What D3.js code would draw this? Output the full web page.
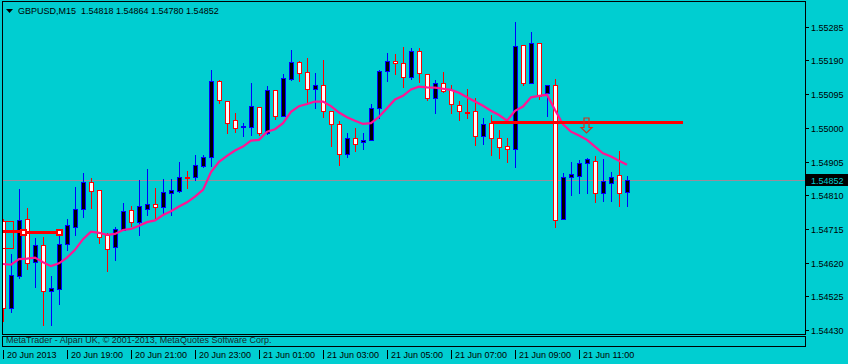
<!DOCTYPE html>
<html>
<head>
<meta charset="utf-8">
<script src="https://cdn.jsdelivr.net/npm/d3@7"></script>
<style>
  body { margin: 0; background: #00ced1; }
  svg { display: block; font-family: "Liberation Sans", Arial, sans-serif; }
</style>
</head>
<body>
<div class="draw"></div>
<script>
// GBPUSD M15, 20 Jun 17:00 .. 21 Jun 12:30
const symbol = "GBPUSD,M15"
const opens = [1.54737,1.54492,1.54582,1.54743,1.54622,1.54670,1.54540,1.54546,1.54672,1.54720,
  1.54771,1.54847,1.54825,1.54698,1.54664,1.54712,1.54768,1.54734,1.54771,1.54785,
  1.54777,1.54816,1.54822,1.54861,1.54861,1.54892,1.54918,1.55132,1.55076,1.55022,
  1.55002,1.55002,1.55059,1.54985,1.55107,1.55033,1.55138,1.55186,1.55157,1.55109,
  1.55121,1.55047,1.55011,1.54926,1.54971,1.54960,1.54966,1.55056,1.55160,1.55188,
  1.55183,1.55143,1.55217,1.55152,1.55084,1.55126,1.55107,1.55064,1.55045,1.55047,
  1.54977,1.55014,1.54971,1.54949,1.54940,1.55233,1.55126,1.55239,1.55098,1.55121,
  1.54743,1.54861,1.54864,1.54901,1.54906,1.54816,1.54844,1.54867,1.54818]
const highs = [1.54743,1.54644,1.54828,1.54774,1.54689,1.54692,1.54582,1.54703,1.54743,1.54833,
  1.54873,1.54859,1.54825,1.54703,1.54720,1.54788,1.54780,1.54853,1.54884,1.54830,
  1.54856,1.54856,1.54904,1.54878,1.54923,1.54923,1.55163,1.55135,1.55076,1.55042,
  1.55014,1.55126,1.55059,1.55118,1.55107,1.55152,1.55219,1.55188,1.55197,1.55155,
  1.55191,1.55047,1.55019,1.54985,1.54999,1.54985,1.55067,1.55163,1.55211,1.55208,
  1.55228,1.55225,1.55225,1.55152,1.55135,1.55157,1.55121,1.55076,1.55109,1.55084,
  1.55028,1.55036,1.54994,1.54971,1.55298,1.55233,1.55270,1.55239,1.55121,1.55138,
  1.54873,1.54904,1.54909,1.54915,1.54921,1.54912,1.54875,1.54935,1.54864]
const lows = [1.54455,1.54481,1.54577,1.54602,1.54551,1.54444,1.54444,1.54503,1.54656,1.54698,
  1.54749,1.54774,1.54675,1.54596,1.54627,1.54712,1.54723,1.54698,1.54754,1.54740,
  1.54757,1.54754,1.54819,1.54830,1.54853,1.54890,1.54892,1.55070,1.54985,1.54988,
  1.54977,1.54980,1.54980,1.54983,1.55025,1.55033,1.55135,1.55132,1.55067,1.55056,
  1.55031,1.54949,1.54895,1.54918,1.54935,1.54940,1.54966,1.55028,1.55132,1.55152,
  1.55115,1.55138,1.55129,1.55078,1.55042,1.55101,1.55042,1.55022,1.55028,1.54952,
  1.54954,1.54923,1.54915,1.54904,1.54890,1.55121,1.55126,1.55081,1.55033,1.54720,
  1.54743,1.54811,1.54816,1.54816,1.54791,1.54794,1.54794,1.54780,1.54780]
const closes = [1.54492,1.54585,1.54740,1.54619,1.54670,1.54540,1.54548,1.54672,1.54726,1.54771,
  1.54847,1.54822,1.54692,1.54658,1.54715,1.54765,1.54734,1.54780,1.54785,1.54777,
  1.54819,1.54825,1.54861,1.54861,1.54895,1.54918,1.55132,1.55078,1.55014,1.54999,
  1.55005,1.55061,1.54985,1.55107,1.55033,1.55140,1.55186,1.55155,1.55109,1.55121,
  1.55047,1.55011,1.54926,1.54971,1.54954,1.54966,1.55056,1.55160,1.55188,1.55183,
  1.55143,1.55217,1.55155,1.55084,1.55126,1.55104,1.55067,1.55047,1.55045,1.54977,
  1.55011,1.54971,1.54946,1.54940,1.55231,1.55126,1.55239,1.55090,1.55121,1.54740,
  1.54861,1.54870,1.54901,1.54912,1.54816,1.54850,1.54861,1.54816,1.54852]
// moving average
const maValues = [1.54616,1.54614,1.54630,1.54631,1.54634,1.54621,1.54610,1.54618,1.54634,1.54656,
  1.54686,1.54707,1.54704,1.54698,1.54701,1.54712,1.54715,1.54724,1.54734,1.54739,
  1.54754,1.54765,1.54778,1.54790,1.54806,1.54825,1.54875,1.54904,1.54921,1.54936,
  1.54947,1.54964,1.54966,1.54989,1.54996,1.55013,1.55045,1.55061,1.55067,1.55074,
  1.55074,1.55061,1.55043,1.55030,1.55020,1.55011,1.55013,1.55031,1.55055,1.55080,
  1.55090,1.55108,1.55116,1.55114,1.55113,1.55110,1.55107,1.55099,1.55086,1.55074,
  1.55062,1.55048,1.55036,1.55020,1.55048,1.55060,1.55086,1.55090,1.55093,1.55050,
  1.55010,1.54989,1.54978,1.54966,1.54947,1.54928,1.54919,1.54907,1.54896]

const timeTicks = [0, 8, 16, 24, 32, 40, 48, 56, 64, 72]
const timeLabels = ["20 Jun 2013", "20 Jun 19:00", "20 Jun 21:00", "20 Jun 23:00", "21 Jun 01:00",
  "21 Jun 03:00", "21 Jun 05:00", "21 Jun 07:00", "21 Jun 09:00", "21 Jun 11:00"]
const priceTicks = [1.55285, 1.55190, 1.55095, 1.55000, 1.54905, 1.54810, 1.54715, 1.54620, 1.54525, 1.54430]

// chart objects (bar index, price)
const hLine = [61, 85, 1.55015]
const sellArrow = [73, 1.54986]
const trendA = [[-1, 1.54708], [2.5, 1.54708]]
const trendB = [[2.5, 1.54705], [7, 1.54705]]
const boxObj = [[-1, 1.54737], [1.25, 1.54661]]

const width = 848
const height = 364
const bg = "#00ced1"

let svg = d3.select("div.draw")
  .append("svg")
  .attr("width", width)
  .attr("height", height)

svg.append("rect").attr("width", width).attr("height", height).attr("fill", bg)

let x = d3.scaleLinear().domain([0, opens.length - 1]).range([3, 627])
let y = d3.scaleLinear().domain([1.54430, 1.55285]).range([330, 26.7])
const px = i => Math.round(x(i))
const py = p => Math.round(y(p))

svg.append("clipPath").attr("id", "plot")
  .append("rect").attr("x", 3).attr("y", 2).attr("width", 802).attr("height", 332)

let plot = svg.append("g").attr("clip-path", "url(#plot)")

// bid line
let last = closes[closes.length - 1]
plot.append("line")
  .attr("x1", 0).attr("x2", 806)
  .attr("y1", py(last) + 0.5).attr("y2", py(last) + 0.5)
  .attr("stroke", "#9a8c9c")
  .style("shape-rendering", "crispEdges")

let bars = d3.range(opens.length).map(i => ({
  i: i, o: opens[i], h: highs[i], l: lows[i], c: closes[i], up: closes[i] > opens[i]
}))

let candles = plot.selectAll("g.candle")
  .data(bars)
  .enter()
  .append("g")
  .attr("class", "candle")
  .style("shape-rendering", "crispEdges")

candles.append("line")
  .attr("x1", d => px(d.i) + 0.5).attr("x2", d => px(d.i) + 0.5)
  .attr("y1", d => py(d.h)).attr("y2", d => py(d.l) + 1)
  .attr("stroke", d => d.up ? "#0000ff" : "#ff0000")

candles.append("rect")
  .attr("x", d => px(d.i) - 1.5)
  .attr("width", 4)
  .attr("y", d => py(Math.max(d.o, d.c)) + 0.5)
  .attr("height", d => Math.max(py(Math.min(d.o, d.c)) - py(Math.max(d.o, d.c)), 1))
  .attr("fill", d => d.up ? "#000000" : "#ffffff")
  .attr("stroke", d => d.up ? "#0000ff" : "#ff0000")

// moving average
plot.append("path")
  .datum(maValues)
  .attr("d", d3.line().x((v, i) => x(i)).y(v => y(v)))
  .attr("fill", "none")
  .attr("stroke", "#ff1493")
  .attr("stroke-width", 2.2)

// objects
plot.append("rect")
  .attr("x", px(boxObj[0][0]) + 0.5)
  .attr("y", py(boxObj[0][1]) + 0.5)
  .attr("width", px(boxObj[1][0]) - px(boxObj[0][0]))
  .attr("height", py(boxObj[1][1]) - py(boxObj[0][1]))
  .attr("fill", "none").attr("stroke", "#ff0000")
  .style("shape-rendering", "crispEdges")

;[trendA, trendB].forEach(t => {
  plot.append("line")
    .attr("x1", x(t[0][0])).attr("x2", x(t[1][0]))
    .attr("y1", py(t[0][1]) + 0.5).attr("y2", py(t[1][1]) + 0.5)
    .attr("stroke", "#ff0000").attr("stroke-width", 3)
    .style("shape-rendering", "crispEdges")
})
plot.selectAll("rect.anchor")
  .data([trendB[0], trendB[1]])
  .enter()
  .append("rect")
  .attr("class", "anchor")
  .attr("x", d => Math.round(x(d[0])) - 2.5)
  .attr("y", d => py(d[1]) - 2)
  .attr("width", 5).attr("height", 5)
  .attr("fill", "#ffffff").attr("stroke", "#ff0000").attr("stroke-width", 2)
  .style("shape-rendering", "crispEdges")

plot.append("line")
  .attr("x1", px(hLine[0])).attr("x2", px(hLine[1]))
  .attr("y1", py(hLine[2]) + 0.5).attr("y2", py(hLine[2]) + 0.5)
  .attr("stroke", "#ff0000").attr("stroke-width", 3)
  .style("shape-rendering", "crispEdges")

let tx = px(sellArrow[0]) - 0.5
let ty = py(sellArrow[1])
plot.append("path")
  .attr("d", `M${tx - 2.5},${ty - 15} H${tx + 2.5} V${ty - 5.5} H${tx + 5.5} L${tx},${ty} L${tx - 5.5},${ty - 5.5} H${tx - 2.5} Z`)
  .attr("fill", "none").attr("stroke", "#d0301c").attr("stroke-width", 1.2)

// frames
svg.append("rect")
  .attr("x", 2.5).attr("y", 1.5).attr("width", 803).attr("height", 333)
  .attr("fill", "none").attr("stroke", "#000")
  .style("shape-rendering", "crispEdges")

svg.append("clipPath").attr("id", "copy")
  .append("rect").attr("x", 3).attr("y", 337).attr("width", 802).attr("height", 9)
svg.append("text")
  .attr("clip-path", "url(#copy)")
  .attr("x", 6).attr("y", 343)
  .style("font-size", "9px")
  .attr("fill", "#1a2a2a")
  .text("MetaTrader - Alpari UK, © 2001-2013, MetaQuotes Software Corp.")
svg.append("rect")
  .attr("x", 2.5).attr("y", 336.5).attr("width", 803).attr("height", 10)
  .attr("fill", "none").attr("stroke", "#000")
  .style("shape-rendering", "crispEdges")

// header
svg.append("path").attr("d", "M6,9 L13,9 L9.5,13 Z").attr("fill", "#000")
svg.append("text")
  .attr("x", 18).attr("y", 14)
  .style("font-size", "9px")
  .style("white-space", "pre")
  .attr("fill", "#000")
  .text(symbol + "  " + [opens, highs, lows, closes].map(a => a[a.length - 1].toFixed(5)).join(" "))

// price axis
let pAxis = svg.append("g")
pAxis.selectAll("line")
  .data(priceTicks)
  .enter()
  .append("line")
  .attr("x1", 806).attr("x2", 809)
  .attr("y1", d => py(d) + 0.5).attr("y2", d => py(d) + 0.5)
  .attr("stroke", "#000")
  .style("shape-rendering", "crispEdges")
pAxis.selectAll("text")
  .data(priceTicks)
  .enter()
  .append("text")
  .attr("x", 811).attr("y", d => py(d) + 4)
  .style("font-size", "9px")
  .attr("fill", "#000")
  .text(d => d.toFixed(5))

svg.append("rect")
  .attr("x", 806).attr("y", py(last) - 6).attr("width", 42).attr("height", 12)
  .attr("fill", "#000")
svg.append("text")
  .attr("x", 811).attr("y", py(last) + 4)
  .style("font-size", "9px")
  .attr("fill", bg)
  .text(last.toFixed(5))

// time axis
let tAxis = svg.append("g")
tAxis.selectAll("line")
  .data(timeTicks)
  .enter()
  .append("line")
  .attr("x1", d => px(d) + 0.5).attr("x2", d => px(d) + 0.5)
  .attr("y1", 350).attr("y2", 359)
  .attr("stroke", "#000")
  .style("shape-rendering", "crispEdges")
tAxis.selectAll("text")
  .data(timeTicks)
  .enter()
  .append("text")
  .attr("x", d => px(d) + 4).attr("y", 358)
  .style("font-size", "9px")
  .attr("fill", "#000")
  .text((d, k) => timeLabels[k])
</script>
</body>
</html>
